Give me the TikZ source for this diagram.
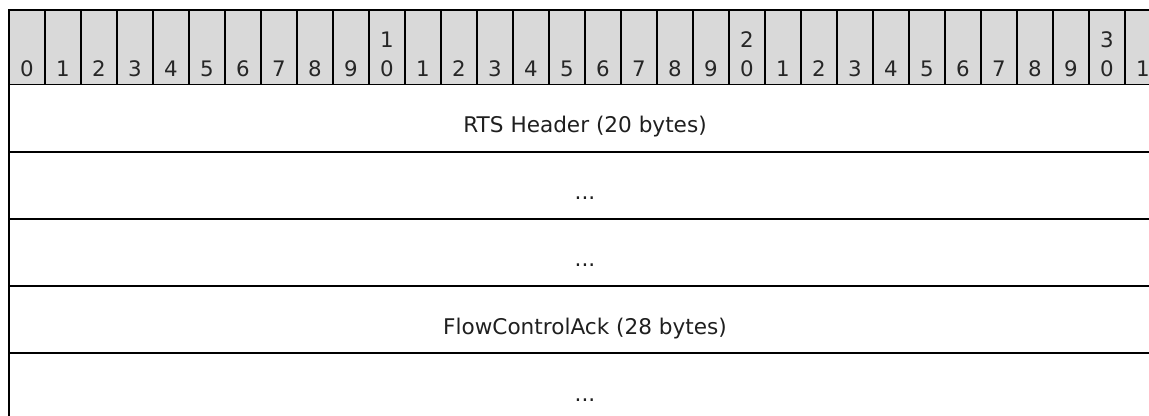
\documentclass[tikz,border=0pt]{standalone}
\usepackage{fontspec}
\setmainfont{DejaVu Sans}
\definecolor{hdrgray}{HTML}{D9D9D9}
\begin{document}
\begin{tikzpicture}[x=0.75pt,y=-0.75pt,
  hdrcell/.style={draw=black, fill=hdrgray, line width=1.05pt},
  rowbox/.style={draw=black, line width=1.3pt},
  bitlbl/.style={anchor=base, inner sep=0pt, text=black!85, font=\fontsize{16}{19}\selectfont},
  fieldlbl/.style={anchor=base, inner sep=0pt, text=black!88, font=\fontsize{16.2}{19}\selectfont}]
\useasboundingbox (0,0) rectangle (1149,415);
% header cells
\foreach \i in {0,...,31} {
  \pgfmathsetmacro\xl{9+36*\i}
  \pgfmathtruncatemacro\u{mod(\i,10)}
  \pgfmathtruncatemacro\t{div(\i,10)}
  \path[hdrcell] (\xl,10) rectangle ++(36,74.5);
  \node[bitlbl] (bit\i) at (\xl+18,76) {\u};
  \ifnum\u=0 \ifnum\i>0
    \node[bitlbl] (bitt\i) at (\xl+18,47.5) {\t};
  \fi\fi
}
% field rows
\path[rowbox] (9,84.5) rectangle (1161,151.7);
\path[rowbox] (9,151.7) rectangle (1161,218.9);
\path[rowbox] (9,218.9) rectangle (1161,286.1);
\path[rowbox] (9,286.1) rectangle (1161,353.3);
\path[rowbox] (9,353.3) rectangle (1161,420.5);
\draw[line width=1.3pt] (9,10) -- (1161,10);
\draw[line width=1.3pt] (9,10) -- (9,420.5);
\node[fieldlbl] (f1) at (585,132.5) {RTS Header (20 bytes)};
\node[fieldlbl] (f2) at (585,199.7) {...};
\node[fieldlbl] (f3) at (585,266.9) {...};
\node[fieldlbl] (f4) at (585,334.1) {FlowControlAck (28 bytes)};
\node[fieldlbl] (f5) at (585,401.3) {...};
\end{tikzpicture}
\end{document}
